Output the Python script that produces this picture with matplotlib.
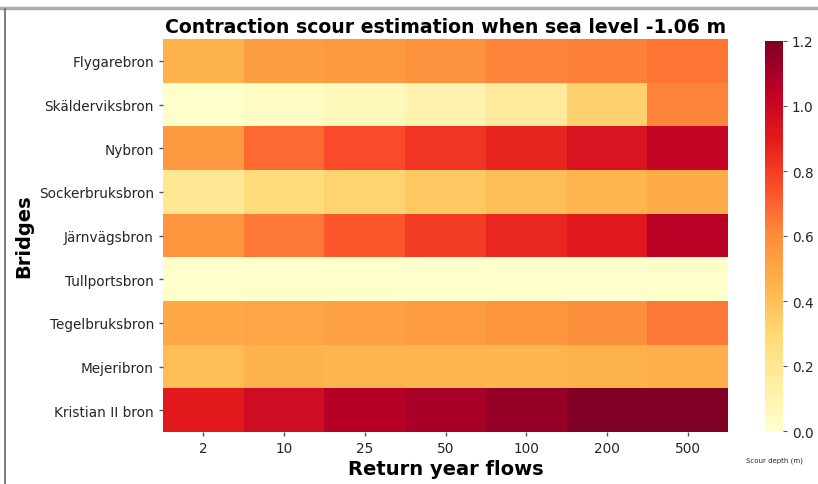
import numpy as np
import matplotlib
matplotlib.use("Agg")
import matplotlib.pyplot as plt
from matplotlib.lines import Line2D

bridges = ["Flygarebron", "Skälderviksbron", "Nybron", "Sockerbruksbron",
           "Järnvägsbron", "Tullportsbron", "Tegelbruksbron", "Mejeribron",
           "Kristian II bron"]
return_years = ["2", "10", "25", "50", "100", "200", "500"]

flygarebron     = [0.45, 0.53, 0.55, 0.58, 0.62, 0.63, 0.66]
skalderviksbron = [0.00, 0.03, 0.06, 0.10, 0.17, 0.33, 0.62]
nybron          = [0.55, 0.68, 0.76, 0.82, 0.87, 0.94, 1.02]
sockerbruksbron = [0.20, 0.28, 0.32, 0.37, 0.41, 0.44, 0.48]
jarnvagsbron    = [0.57, 0.65, 0.73, 0.80, 0.86, 0.90, 1.05]
tullportsbron   = [0.00, 0.00, 0.00, 0.00, 0.00, 0.00, 0.00]
tegelbruksbron  = [0.49, 0.50, 0.52, 0.54, 0.57, 0.59, 0.65]
mejeribron      = [0.41, 0.45, 0.44, 0.44, 0.44, 0.45, 0.46]
kristian_ii     = [0.90, 0.98, 1.06, 1.10, 1.14, 1.20, 1.20]

values = np.array([flygarebron, skalderviksbron, nybron, sockerbruksbron,
                   jarnvagsbron, tullportsbron, tegelbruksbron, mejeribron,
                   kristian_ii])

fig = plt.figure(figsize=(8.18, 4.85), dpi=100)
W, H = 818, 485
ax = fig.add_axes([163 / W, 1 - 433 / H, (728 - 163) / W, (433 - 40) / H])
cax = fig.add_axes([765 / W, 1 - 432 / H, 18 / W, (432 - 42) / H])

im = ax.pcolormesh(values, cmap="YlOrRd", vmin=0, vmax=1.2)
ax.set_xlim(0, values.shape[1])
ax.set_ylim(values.shape[0], 0)
ax.set_xticks(np.arange(len(return_years)) + 0.5)
ax.set_xticklabels(return_years, fontsize=9.8, color="#262626")
ax.set_yticks(np.arange(len(bridges)) + 0.5)
ax.set_yticklabels(bridges, fontsize=9.8, color="#262626")
ax.tick_params(length=3, color="#555555", width=1)
for s in ax.spines.values():
    s.set_visible(False)
ax.set_xlabel("Return year flows", fontsize=14, fontweight="bold", labelpad=3)
ax.set_ylabel("Bridges", fontsize=14, fontweight="bold", labelpad=4)
ax.set_title("Contraction scour estimation when sea level -1.06 m",
             fontsize=13.6, fontweight="bold", pad=5)

cb = fig.colorbar(im, cax=cax, ticks=np.arange(0, 1.21, 0.2))
cb.outline.set_visible(False)
cb.ax.tick_params(labelsize=9.8, length=3, color="#555555", labelcolor="#262626")
cb.ax.set_yticklabels([f"{t:.1f}" for t in np.arange(0, 1.21, 0.2)])
fig.text(774 / W, 1 - 461 / H, "Scour depth (m)", fontsize=5, ha="center",
         va="center", color="#262626")

fig.add_artist(Line2D([0, 1], [1 - 9 / H, 1 - 9 / H], transform=fig.transFigure,
                      color="#aaaaaa", lw=2.5))
fig.add_artist(Line2D([4.5 / W, 4.5 / W], [0, 1 - 10 / H], transform=fig.transFigure,
                      color="#666666", lw=1.2))

fig.savefig("out.png", dpi=100)
